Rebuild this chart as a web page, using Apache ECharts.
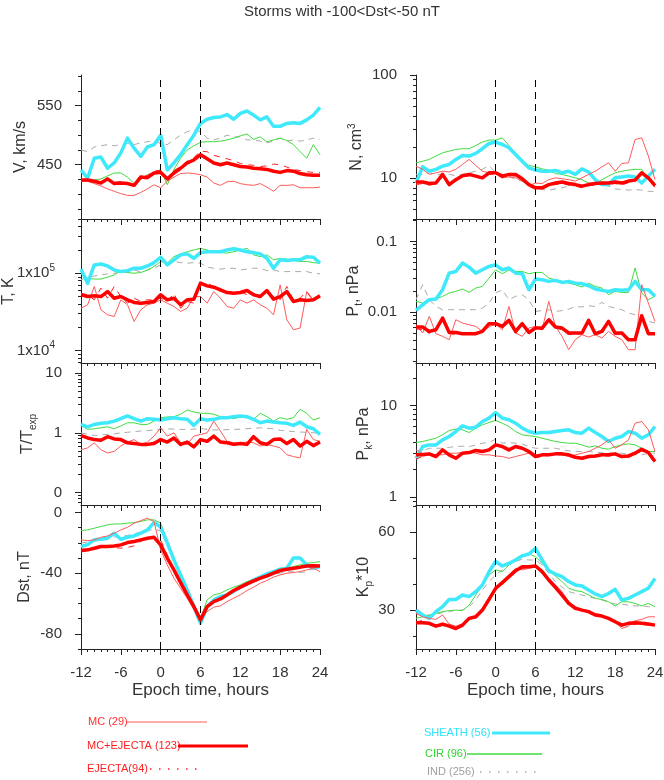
<!DOCTYPE html>
<html><head><meta charset="utf-8">
<script src="https://cdn.jsdelivr.net/npm/echarts@6/dist/echarts.min.js"></script>
<style>html,body{margin:0;padding:0;background:#fff}#c{width:664px;height:780px}</style>
</head><body><div id="c"></div>
<script>
const hours = [-12,-11,-10,-9,-8,-7,-6,-5,-4,-3,-2,-1,0,1,2,3,4,5,6,7,8,9,10,11,12,13,14,15,16,17,18,19,20,21,22,23,24];

// ---- V, km/s
const V_SHEATH = [441,427,461,463,444,453,470,495,478,464,480,484,500,441,453,467,484,500,520,527,530,531,535,527,537,541,534,526,531,515,515,520,521,520,526,534,547];
const V_CIR = [425,425,424,426,431,436,436,429,418,425,433,437,442,416,442,461,475,482,488,489,489,490,492,495,499,502,493,497,489,492,495,491,484,472,461,484,467];
const V_IND = [475,472,480,482,484,482,484,486,484,487,489,490,486,484,492,500,506,509,506,495,492,495,500,497,497,492,492,490,487,490,495,490,492,490,492,495,493];
const V_MCEJ = [424,424,422,419,426,418,419,418,415,429,428,436,437,426,436,444,453,458,467,460,453,450,453,450,447,446,444,443,442,439,437,440,439,435,433,432,432];
const V_MC = [422,422,418,414,409,405,401,398,398,403,409,416,411,422,429,435,436,435,433,429,419,415,421,422,418,416,415,418,412,405,415,415,416,411,411,411,412];
const V_EJECTA = [423,424,421,418,425,420,421,420,417,433,431,440,440,428,440,447,456,462,473,472,466,463,460,457,452,450,449,447,448,451,450,446,442,440,438,437,437];

// ---- T, K
const T_SHEATH = [113000,74000,128000,132000,124000,110000,105000,108000,116000,116000,124000,137000,161000,128000,149000,173000,178000,156000,185000,190000,190000,190000,200000,207000,200000,190000,185000,178000,156000,116000,149000,146000,149000,149000,164000,161000,135000];
const T_CIR = [98000,86000,84000,84000,89000,95000,108000,102000,100000,102000,110000,122000,142000,135000,164000,178000,190000,200000,210000,200000,190000,185000,182000,190000,200000,210000,173000,164000,173000,149000,156000,152000,146000,142000,142000,137000,135000];
const T_IND = [82000,89000,92000,95000,98000,100000,104000,102000,110000,104000,110000,116000,128000,135000,142000,137000,135000,137000,135000,120000,116000,113000,116000,116000,110000,113000,116000,116000,108000,110000,105000,105000,105000,105000,105000,100000,98000];
const T_MCEJ = [52500,49900,50900,49900,57900,47500,49900,45200,41800,40900,41800,43100,52500,45200,47500,39000,45200,46100,74300,68500,65900,60800,56200,55100,56200,59700,52500,49900,59700,46100,49900,57900,43100,45200,44400,45200,50900];
const T_MC = [35200,39000,67300,33600,28900,27500,45200,39000,23700,33600,39000,40900,45200,40900,37100,31900,35200,49900,49900,40900,57900,47500,37100,35200,45200,40900,45200,39000,35200,28900,70600,24900,18500,19500,57900,45200,49900];
const T_EJECTA = [55100,52500,45200,64000,47500,67300,49900,40900,47500,43100,45200,45200,47500,43100,55100,35200,43100,40900,74300,74300,67300,57900,60800,55100,57900,52500,55100,47500,60800,49900,45200,67300,45200,47500,57900,43100,49900];

// ---- T/Texp
const TT_SHEATH = [1.38,1.26,1.38,1.44,1.47,1.57,1.72,1.91,1.72,1.57,1.72,1.68,1.63,1.72,1.79,1.72,1.68,1.33,1.72,1.63,1.68,1.79,1.79,1.86,1.91,1.86,1.68,1.47,1.57,1.51,1.47,1.44,1.33,1.51,1.26,1.17,0.94];
const TT_CIR = [1.33,1.14,1.17,1.21,1.26,1.17,1.30,1.47,1.47,1.38,1.38,1.57,1.79,1.84,1.86,2.04,2.41,2.23,2.12,2.12,2.04,1.86,1.79,1.72,1.84,1.79,1.68,2.12,1.86,1.57,1.79,1.68,1.79,2.47,2.12,1.63,1.79];
const TT_IND = [1.0,0.95,0.9,0.92,0.94,0.96,1.0,1.02,1.05,1.07,1.09,1.11,1.14,1.17,1.15,1.14,1.14,1.15,1.17,1.15,1.12,1.11,1.13,1.14,1.15,1.17,1.19,1.21,1.18,1.17,1.1,1.07,1.05,1.03,1.02,1.0,1.0];
const TT_MCEJ = [0.90,0.82,0.77,0.75,0.86,0.79,0.77,0.68,0.66,0.64,0.64,0.66,0.77,0.70,0.82,0.64,0.70,0.58,0.77,0.72,0.88,0.70,0.68,0.64,0.66,0.64,0.86,0.68,0.64,0.77,0.79,0.66,0.77,0.60,0.72,0.61,0.70];
const TT_MC = [0.52,0.56,0.68,0.52,0.46,0.49,0.60,0.70,0.77,0.64,0.70,0.88,1.21,0.88,1.0,0.68,0.64,0.88,0.94,1.0,1.57,1.07,0.72,0.68,0.68,0.70,0.68,0.60,0.64,0.60,0.56,0.43,0.40,0.38,1.14,0.77,0.72];
const TT_EJECTA = [0.93,0.85,0.80,0.72,0.83,0.80,0.74,0.70,0.62,0.66,0.62,0.70,0.74,0.72,0.80,0.66,0.68,0.62,0.74,0.75,0.85,0.72,0.70,0.66,0.68,0.66,0.82,0.70,0.62,0.74,0.80,0.64,0.74,0.62,0.75,0.64,0.72];

// ---- Dst, nT
const D_SHEATH = [-22.4,-21.1,-18,-17.6,-16.9,-13.6,-17.6,-16.3,-15.4,-13.6,-11.4,-6.6,-9.5,-20,-31.2,-41,-51,-62,-73,-62,-57.6,-55.4,-54.3,-52,-49.2,-47,-44.4,-42.6,-40.4,-38.9,-37.4,-36.7,-30,-30,-34.5,-36.7,-35.6];
const D_CIR = [-11.9,-11.4,-10.3,-9.2,-8.1,-7.5,-7.5,-7,-6.6,-5.9,-4.8,-4.8,-7,-19,-30,-40,-50,-60,-70,-57.6,-54.3,-53.2,-51,-49.2,-47.7,-45.5,-44,-42.2,-40.4,-38.9,-37.8,-36.7,-35.6,-34.5,-33.4,-33,-32.3];
const D_IND = [-20,-19.5,-19,-18,-17,-16,-16,-15,-14,-13,-12,-11,-12,-22,-33,-43,-53,-63,-72,-63,-58,-56,-54,-52,-50,-48,-46,-44,-42,-41,-40,-39,-39,-39.5,-39,-37,-36];
const D_MCEJ = [-25,-24.6,-23.5,-22.4,-22.4,-22,-21.3,-19.8,-19.1,-18,-16.9,-16.3,-21.3,-30,-37.8,-46.2,-54.3,-62,-70.8,-62,-58.7,-57,-54.3,-51.4,-49.2,-47,-45,-43.3,-41.8,-40,-38.2,-37.4,-36.7,-36,-35.2,-35,-35.2];
const D_MC = [-18,-18.5,-18,-16.3,-15.4,-13.6,-11.4,-9.7,-7,-5.3,-3.7,-5.9,-24.6,-34.5,-43.3,-50,-56.5,-64,-69.7,-65.3,-62.4,-61.5,-58.7,-56.5,-54.3,-51.4,-49.2,-46.6,-44.8,-42.6,-41.1,-40,-39.6,-38.9,-37.8,-36.7,-38.9];
const D_EJECTA = [-26,-25,-24,-23.5,-23,-23,-23.5,-23,-22,-19,-17,-16,-18,-28,-38,-47,-55,-63,-71,-63,-59,-57.5,-55,-52,-50,-48,-46,-44,-42.5,-41,-39,-38,-37,-36.5,-36,-35.5,-36];

// ---- N, cm^3
const N_SHEATH = [8.9,12.8,11.6,12.1,13.0,13.5,15.1,16.5,16.3,17.3,19.2,21.6,22.3,21.1,19.6,16.9,14.5,12.5,11.9,11.6,11.6,11.8,11.2,11.6,10.8,12.2,11.4,9.6,8.6,8.6,10.0,10.2,10.4,10.2,8.9,10.4,12.1];
const N_CIR = [14.0,14.5,15.1,16.3,17.5,18.2,18.9,19.2,19.2,20.6,22.3,23.3,23.3,24.5,20.6,17.5,14.5,13.2,12.8,12.2,11.9,11.0,10.8,10.4,10.0,9.6,8.9,8.8,9.6,10.4,11.2,11.6,11.9,12.1,12.1,9.6,8.9];
const N_IND = [10.8,10.8,11.2,10.8,10.8,10.8,10.5,10.8,11.2,11.6,12.1,13.2,11.2,10.8,10.4,9.6,9.3,8.6,8.0,7.7,7.6,7.8,8.0,8.3,8.4,8.4,8.6,8.8,8.6,8.3,7.8,7.7,7.6,7.7,7.6,7.4,7.4];
const N_MCEJ = [9.1,9.1,8.8,8.9,10.8,8.6,9.6,10.5,10.8,10.4,10.0,11.2,11.2,10.4,10.8,10.8,9.8,8.6,8.0,8.0,8.6,8.9,9.1,8.8,8.6,8.3,8.6,8.8,8.9,8.9,9.1,8.9,9.3,9.5,11.2,10.0,8.4];
const N_MC = [13.0,12.1,10.8,11.2,11.6,11.4,12.1,13.5,15.1,13.2,11.6,11.2,11.2,10.0,10.2,10.0,9.3,8.4,8.9,8.8,9.6,10.0,9.8,9.6,9.3,10.0,10.8,11.6,12.8,14.0,11.6,13.8,14.0,23.6,24.5,16.3,9.6];
const N_EJECTA = [8.6,8.8,8.5,8.7,10.2,8.3,9.3,10.2,10.5,10.2,9.8,10.8,10.9,10.0,10.6,10.4,9.5,8.3,7.8,7.8,8.4,8.6,8.8,8.5,8.3,8.0,8.4,8.5,8.7,8.6,8.8,8.5,9.0,9.3,10.8,9.7,8.1];

// ---- Pt, nPa
const PT_SHEATH = [0.0106,0.0127,0.0150,0.0153,0.0207,0.0356,0.0376,0.0494,0.0433,0.0356,0.0397,0.0443,0.0467,0.0397,0.0420,0.0356,0.0349,0.0207,0.0293,0.0287,0.0272,0.0281,0.0263,0.0272,0.0257,0.0252,0.0236,0.0212,0.0203,0.0196,0.0207,0.0203,0.0207,0.0272,0.0207,0.0207,0.0167];
const PT_CIR = [0.0142,0.0134,0.0150,0.0153,0.0167,0.0186,0.0196,0.0212,0.0190,0.0219,0.0231,0.0303,0.0397,0.0349,0.0397,0.0376,0.0376,0.0349,0.0364,0.0364,0.0303,0.0287,0.0272,0.0257,0.0244,0.0226,0.0257,0.0231,0.0219,0.0176,0.0196,0.0190,0.0190,0.0420,0.0186,0.0150,0.0167];
const PT_IND = [0.0150,0.0244,0.0150,0.0120,0.0108,0.0108,0.0108,0.0108,0.0108,0.0108,0.0114,0.0134,0.0186,0.0207,0.0150,0.0167,0.0176,0.0150,0.0102,0.0105,0.0108,0.0102,0.0105,0.0110,0.0120,0.0118,0.0123,0.0120,0.0137,0.0120,0.0114,0.0108,0.0097,0.0092,0.0078,0.0074,0.0070];
const PT_MCEJ = [0.00614,0.00614,0.00532,0.00562,0.00822,0.00515,0.00515,0.00494,0.00494,0.00494,0.00532,0.00684,0.00684,0.00627,0.00762,0.00532,0.00684,0.00515,0.00594,0.00594,0.00779,0.00614,0.00594,0.00505,0.00505,0.00505,0.00762,0.00494,0.00532,0.00738,0.00505,0.00505,0.00406,0.00406,0.00887,0.00494,0.00494];
const PT_MC = [0.00662,0.00505,0.00869,0.00494,0.00453,0.00406,0.00779,0.00699,0.00662,0.00627,0.00532,0.00614,0.00684,0.00562,0.0120,0.00505,0.00453,0.00594,0.00627,0.00562,0.0142,0.00627,0.00453,0.00293,0.00406,0.00478,0.00443,0.00478,0.00429,0.00532,0.00453,0.00406,0.00293,0.00293,0.0244,0.0134,0.00738];
const PT_EJECTA = [0.0058,0.0056,0.0050,0.0060,0.0078,0.0050,0.0048,0.0050,0.0048,0.0050,0.0056,0.0070,0.0066,0.0060,0.0080,0.0050,0.0066,0.0050,0.0060,0.0056,0.0075,0.0060,0.0056,0.0048,0.0048,0.0050,0.0080,0.0048,0.0050,0.0075,0.0048,0.0048,0.0042,0.0042,0.0090,0.0050,0.0050];

// ---- Pk, nPa
const PK_SHEATH = [2.66,3.57,3.72,3.72,4.22,4.59,5.20,6.00,5.66,5.80,6.69,7.28,8.39,7.28,6.98,6.41,5.66,5.20,4.99,5.07,5.07,5.20,5.34,5.43,5.07,4.99,5.66,5.07,4.59,4.05,4.40,4.59,5.20,4.99,4.40,4.79,5.90];
const PK_CIR = [3.95,4.05,4.22,4.40,4.79,5.34,5.52,5.43,5.07,5.66,6.15,6.53,6.86,6.41,5.90,5.20,4.79,4.67,4.59,4.40,4.22,4.05,3.95,3.88,3.88,3.72,3.51,3.63,3.42,3.34,3.57,3.72,3.82,3.72,3.42,3.15,3.15];
const PK_IND = [2.90,3.20,3.42,3.42,3.42,3.50,3.57,3.60,3.57,3.70,3.88,3.95,4.29,3.88,3.95,3.88,3.80,3.57,3.42,3.42,3.42,3.42,3.30,3.20,3.15,3.15,3.15,3.10,3.05,3.02,3.02,3.02,2.95,2.90,2.90,3.00,3.02];
const PK_MCEJ = [2.90,2.90,2.97,2.78,3.28,2.90,2.66,3.02,3.07,3.23,3.15,3.28,3.72,3.57,3.28,3.57,3.42,3.15,2.78,2.90,2.90,2.97,2.97,2.90,2.73,2.66,2.78,2.82,2.90,2.90,2.97,2.78,2.82,3.02,3.34,3.07,2.45];
const PK_MC = [3.28,3.02,3.02,2.90,2.90,3.02,3.02,3.07,3.15,3.02,2.90,2.90,2.82,2.78,2.66,2.78,2.90,3.02,2.90,2.90,2.90,2.97,2.90,2.78,2.90,3.02,3.15,3.42,3.72,4.22,3.42,3.72,4.22,6.41,6.69,5.43,3.15];
const PK_EJECTA = [2.60,2.80,2.90,2.75,3.20,2.85,2.60,2.95,3.00,3.15,3.10,3.25,3.60,3.45,3.20,3.50,3.35,3.05,2.70,2.80,2.85,2.90,2.90,2.80,2.65,2.60,2.75,2.75,2.85,2.80,2.90,2.70,2.70,2.95,3.20,2.95,2.30];

// ---- Kp*10
const KP_SHEATH = [30.0,28.1,26.8,29.4,31.3,34.1,34.1,35.8,35.2,37.1,39.7,44.8,48.7,47.0,48.0,49.3,50.9,51.6,53.8,49.3,45.2,43.9,42.9,41.0,39.7,39.3,37.7,36.2,35.2,36.4,38.0,33.9,34.5,35.8,37.1,38.4,42.2];
const KP_CIR = [26.8,27.4,28.1,28.7,29.4,29.8,30.0,29.8,31.9,35.8,39.7,43.5,45.5,44.8,47.4,49.3,50.6,51.6,50.6,48.0,45.2,43.1,41.0,38.4,37.5,37.1,35.8,34.5,34.1,33.2,31.6,33.2,33.2,32.6,31.6,32.6,31.3];
const KP_IND = [28.7,28.1,28.0,28.5,29.0,29.4,30.0,30.0,31.3,33.9,37.7,41.0,43.5,45.5,47.4,48.7,49.6,49.3,49.3,47.4,44.2,41.0,38.8,37.1,36.4,35.8,35.2,34.5,33.9,33.2,32.3,32.3,31.9,31.6,31.6,31.3,31.3];
const KP_MCEJ = [25.1,25.1,24.9,23.8,24.6,23.8,22.9,24.2,26.8,27.4,30.0,34.1,38.4,40.6,42.9,45.2,46.7,46.7,47.0,44.8,41.6,38.8,35.8,32.6,30.7,30.0,29.4,28.1,27.7,26.8,25.5,24.2,24.9,25.1,24.9,24.6,24.2];
const KP_MC = [28.7,27.4,26.8,26.4,28.1,24.6,23.8,24.6,26.4,27.7,30.3,34.5,38.8,41.0,43.5,46.1,45.5,46.1,46.7,45.2,41.9,39.7,37.1,33.2,31.3,30.0,29.4,28.7,28.1,26.8,25.5,22.9,23.8,25.9,26.4,27.4,27.4];
const KP_EJECTA = [25.5,26.0,24.5,23.5,24.0,23.5,23.0,24.0,26.5,27.0,29.5,33.5,38.0,40.0,42.5,44.5,46.0,46.5,46.5,44.5,41.0,38.5,35.5,32.5,30.5,29.8,29.0,28.0,27.5,26.5,25.0,24.0,24.5,24.5,24.5,24.2,24.0];

// ---- tick values
const X_LABELS = [-12,-6,0,6,12,18,24];
const EVENT_LINES = [0,6];
const V_MAJOR = [450,550], V_MINOR = [375,400,425,475,500,525,575,600];
const T_MAJOR = [10000,100000], T_MINOR = [7000,8000,9000,20000,30000,40000,50000,60000,70000,80000,90000,200000,300000,400000,500000];
const TT_MAJOR = [0.1,1,10], TT_MINOR = [0.07,0.08,0.09,0.2,0.3,0.4,0.5,0.6,0.7,0.8,0.9,2,3,4,5,6,7,8,9];
const D_MAJOR = [-80,-40,0], D_MINOR = [-90,-70,-60,-50,-30,-20,-10];
const N_MAJOR = [10,100], N_MINOR = [4,5,6,7,8,9,20,30,40,50,60,70,80,90];
const PT_MAJOR = [0.01,0.1], PT_MINOR = [0.002,0.003,0.004,0.005,0.006,0.007,0.008,0.009,0.02,0.03,0.04,0.05,0.06,0.07,0.08,0.09,0.2];
const PK_MAJOR = [1,10], PK_MINOR = [0.9,2,3,4,5,6,7,8,9,20];
const KP_MAJOR = [30,60], KP_MINOR = [20,40,50,70];

const SERIES_NAMES = ['IND (256)','CIR (96)','SHEATH (56)','MC (29)','EJECTA(94)','MC+EJECTA (123)'];

// ---- layout
const FONT = '"Liberation Sans", Arial, Helvetica, sans-serif';
const COLS = [81, 416], PW = 239;
const ROWS = [{top:75,h:144},{top:219,h:144},{top:363,h:142},{top:505,h:144}];
const STY = [
  {color:'#aaaaaa', width:1, type:[6,5]},
  {color:'#3fdc3f', width:1, type:'solid'},
  {color:'#3ee9fb', width:3.5, type:'solid'},
  {color:'#ff5a5a', width:1, type:'solid'},
  {color:'#ff2020', width:1, type:[6,6]},
  {color:'#ff0000', width:3.5, type:'solid'}
];
const logLbl = v => Math.round(Math.log10(v));
const panels = [
  {c:0,r:0,type:'value',min:358,max:602,maj:V_MAJOR,mnr:V_MINOR,fmt:v=>String(Math.round(v)),name:'V, km/s',gap:52,lm:19,d:[V_IND,V_CIR,V_SHEATH,V_MC,V_EJECTA,V_MCEJ]},
  {c:0,r:1,type:'log',min:6870,max:504000,maj:T_MAJOR,mnr:T_MINOR,fmt:v=>'{b|1x10}{s|'+logLbl(v)+'}',name:'T, K',gap:64,lm:26,d:[T_IND,T_CIR,T_SHEATH,T_MC,T_EJECTA,T_MCEJ]},
  {c:0,r:2,type:'log',min:0.062,max:14.7,maj:TT_MAJOR,mnr:TT_MINOR,fmt:v=>{const e=logLbl(v);return e>0?'10':(e===0?'1':'0');},name:'{n|T/T}{sub|exp}',gap:43,lm:19,d:[TT_IND,TT_CIR,TT_SHEATH,TT_MC,TT_EJECTA,TT_MCEJ]},
  {c:0,r:3,type:'value',min:-90,max:5,maj:D_MAJOR,mnr:D_MINOR,fmt:v=>String(Math.round(v)),name:'Dst, nT',gap:48,lm:19,d:[D_IND,D_CIR,D_SHEATH,D_MC,D_EJECTA,D_MCEJ]},
  {c:1,r:0,type:'log',min:3.98,max:100,maj:N_MAJOR,mnr:N_MINOR,fmt:v=>String(Math.round(v)),name:'{n|N, cm}{sup|3}',gap:49,lm:19,d:[N_IND,N_CIR,N_SHEATH,N_MC,N_EJECTA,N_MCEJ]},
  {c:1,r:1,type:'log',min:0.0019,max:0.208,maj:PT_MAJOR,mnr:PT_MINOR,fmt:v=>logLbl(v)===-1?'0.1':'0.01',name:'{n|P}{sub|t}{n|, nPa}',gap:52,lm:19,d:[PT_IND,PT_CIR,PT_SHEATH,PT_MC,PT_EJECTA,PT_MCEJ]},
  {c:1,r:2,type:'log',min:0.824,max:29,maj:PK_MAJOR,mnr:PK_MINOR,fmt:v=>logLbl(v)===1?'10':'1',name:'{n|P}{sub|k}{n|, nPa}',gap:42,lm:19,d:[PK_IND,PK_CIR,PK_SHEATH,PK_MC,PK_EJECTA,PK_MCEJ]},
  {c:1,r:3,type:'value',min:15,max:70.5,maj:KP_MAJOR,mnr:KP_MINOR,fmt:v=>String(Math.round(v)),name:'{n|K}{sub|p}{n|*10}',gap:42,lm:21,d:[KP_IND,KP_CIR,KP_SHEATH,KP_MC,KP_EJECTA,KP_MCEJ]}
];

const AX = '#222', TX = '#333';
const grid = [], xAxis = [], yAxis = [], series = [];
const nameRich = {
  n:{fontSize:16,fontFamily:FONT,color:TX,lineHeight:20},
  sub:{fontSize:10,fontFamily:FONT,color:TX,lineHeight:12,verticalAlign:'bottom'},
  sup:{fontSize:10,fontFamily:FONT,color:TX,lineHeight:12,verticalAlign:'top'}
};
panels.forEach((p, g) => {
  grid.push({left:COLS[p.c], top:ROWS[p.r].top, width:PW, height:ROWS[p.r].h, containLabel:false, outerBoundsMode:'none'});
  const bottom = p.r === 3;
  xAxis.push({
    type:'value', gridIndex:g, min:-12, max:24, interval:6,
    axisLine:{show:true, onZero:false, lineStyle:{color:AX,width:1}},
    axisTick:{show:true, inside:false, length:6, lineStyle:{color:AX,width:1}},
    minorTick:{show:true, splitNumber:6, length:3, lineStyle:{color:AX,width:1}},
    axisLabel:{show:bottom, margin:16, fontSize:15, fontFamily:FONT, color:TX, customValues:X_LABELS},
    splitLine:{show:false}, minorSplitLine:{show:false},
    name: bottom ? 'Epoch time, hours' : '', nameLocation:'middle', nameGap:33, nameMoveOverlap:false,
    nameTextStyle:{fontSize:17, fontFamily:FONT, color:TX}
  });
  yAxis.push({
    type:p.type, gridIndex:g, min:p.min, max:p.max, position:'left', logBase:10,
    axisLine:{show:true, onZero:false, lineStyle:{color:AX,width:1}},
    axisTick:{show:true, inside:false, length:6, customValues:p.maj, lineStyle:{color:AX,width:1}},
    axisLabel:{show:true, customValues:p.maj, formatter:p.fmt, margin:p.lm, fontSize:15, fontFamily:FONT, color:TX,
      rich:{b:{fontSize:15,fontFamily:FONT,color:TX,lineHeight:20}, s:{fontSize:10,fontFamily:FONT,color:TX,lineHeight:12,verticalAlign:'top'}}},
    splitLine:{show:false},
    name:p.name, nameLocation:'middle', nameGap:p.gap, nameRotate:90, nameMoveOverlap:false,
    nameTextStyle:{fontSize:16, fontFamily:FONT, color:TX, rich:nameRich}
  });
  yAxis.push({
    type:p.type, gridIndex:g, min:p.min, max:p.max, position:'left', offset:0, logBase:10,
    axisLine:{show:false, onZero:false},
    axisTick:{show:true, inside:false, length:3, customValues:p.mnr, lineStyle:{color:AX,width:1}},
    axisLabel:{show:false}, splitLine:{show:false}
  });
  p.d.forEach((arr, k) => {
    const s = {
      type:'line', name:SERIES_NAMES[k], xAxisIndex:g, yAxisIndex:2*g,
      data: hours.map((h, i) => [h, arr[i]]),
      showSymbol:false, symbol:'none', silent:true, animation:false,
      lineStyle:{color:STY[k].color, width:STY[k].width, type:STY[k].type, cap:'butt', join:'round'},
      z: 2 + k
    };
    if (k === 5) {
      s.markLine = {silent:true, symbol:'none', animation:false, label:{show:false},
        lineStyle:{color:'#000', type:[7,5], width:1},
        data: EVENT_LINES.map(v => ({xAxis:v}))};
    }
    series.push(s);
  });
});

const LEG = {font:'11px ' + FONT};
const txt = (x, y, t, c) => ({type:'text', x, y, silent:true,
  style:{text:t, fill:c, font:LEG.font, align:'left', verticalAlign:'middle', textAlign:'left', textVerticalAlign:'middle'}});
const ln = (x1, x2, y, c, w, dash) => ({type:'line', silent:true,
  shape:{x1, y1:y, x2, y2:y}, style:{stroke:c, lineWidth:w, lineDash:dash || null}});

const option = {
  animation:false,
  backgroundColor:'#ffffff',
  grid, xAxis, yAxis, series,
  graphic:[
    {type:'text', x:342, y:12, silent:true, style:{text:'Storms with -100<Dst<-50 nT', fill:TX, font:'15px ' + FONT, align:'center', verticalAlign:'middle', textAlign:'center', textVerticalAlign:'middle'}},
    txt(88, 722, 'MC (29)', '#ff3030'), ln(127, 207, 722, '#ff5a5a', 1.2),
    txt(87, 746, 'MC+EJECTA (123)', '#ff2020'), ln(178, 248, 746, '#ff0000', 3),
    txt(87, 769, 'EJECTA(94)', '#ff2020'), ln(150, 202, 769, '#ff2020', 1.3, [1.5, 7.5]),
    txt(424, 733, 'SHEATH (56)', '#2fe3f8'), ln(492, 550, 733, '#3ee9fb', 3),
    txt(425, 754, 'CIR (96)', '#2fd62f'), ln(467, 542, 754, '#3fdc3f', 1.5),
    txt(427, 772, 'IND (256)', '#a0a0a0'), ln(480, 542, 772, '#aaaaaa', 1.3, [1.5, 7.5])
  ]
};
const chart = echarts.init(document.getElementById('c'), null, {renderer:'canvas', width:664, height:780});
chart.setOption(option);
</script>
</body></html>
